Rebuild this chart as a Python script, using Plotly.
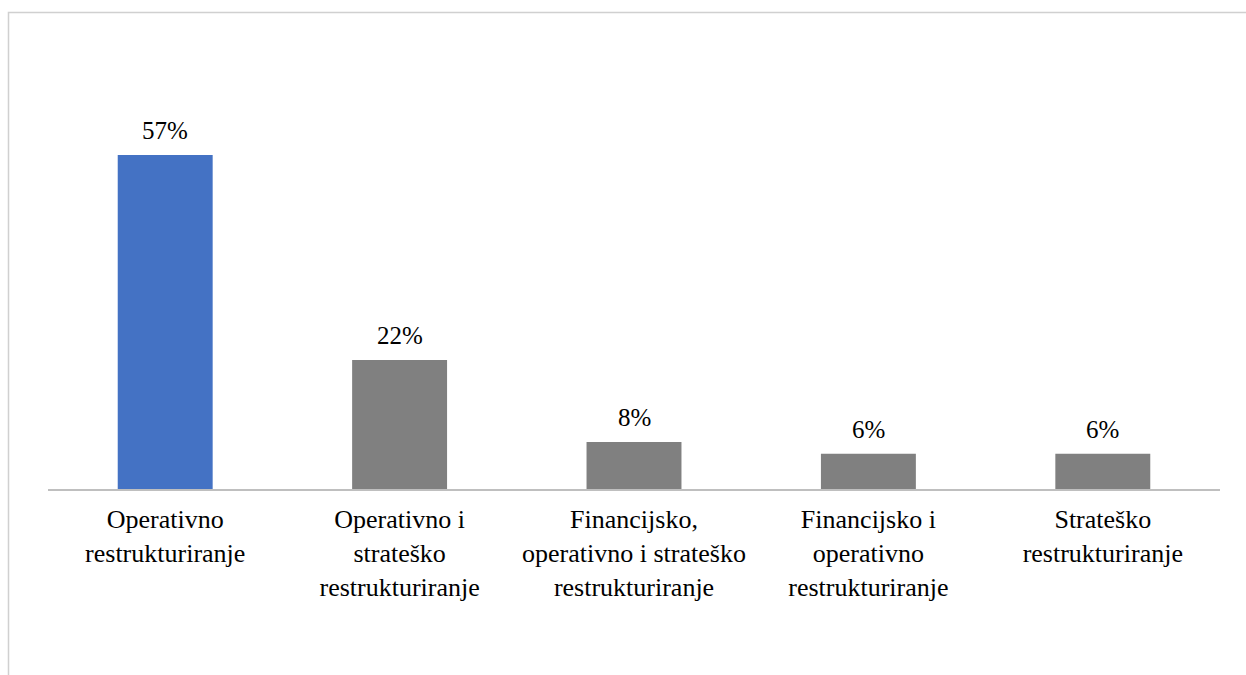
import plotly.graph_objects as go

categories = [
    "Operativno<br>restrukturiranje",
    "Operativno i<br>strateško<br>restrukturiranje",
    "Financijsko,<br>operativno i strateško<br>restrukturiranje",
    "Financijsko i<br>operativno<br>restrukturiranje",
    "Strateško<br>restrukturiranje",
]
shares = [57, 22, 8, 6, 6]
bar_colors = ["#4472C4", "#808080", "#808080", "#808080", "#808080"]

SERIF = "Liberation Serif"

W, H = 1246, 675
L, R, T, B = 48, 26, 40, 186
pw, ph = W - L - R, H - T - B


def px_x(x):
    return (x - L) / pw


def px_y(y):
    return (H - B - y) / ph


fig = go.Figure(
    go.Bar(
        x=categories,
        y=shares,
        marker=dict(color=bar_colors, line=dict(width=0)),
        hoverinfo="x+y",
    )
)

# value labels above each bar
for cat, v in zip(categories, shares):
    fig.add_annotation(
        x=cat,
        y=v,
        xref="x",
        yref="y",
        text=f"{v}%",
        showarrow=False,
        yanchor="bottom",
        yshift=9,
        font=dict(family=SERIF, size=25, color="#000000"),
    )

fig.update_layout(
    width=W,
    height=H,
    margin=dict(l=L, r=R, t=T, b=B),
    paper_bgcolor="white",
    plot_bgcolor="white",
    bargap=0.595,
    showlegend=False,
    font=dict(family=SERIF, size=26, color="#000000"),
    xaxis=dict(
        showline=True,
        linecolor="#BFBFBF",
        linewidth=1.5,
        ticks="",
        ticklabelstandoff=6,
        showgrid=False,
        tickfont=dict(family=SERIF, size=26, color="#000000"),
    ),
    yaxis=dict(
        range=[0, ph / 5.86],
        visible=False,
        showgrid=False,
        zeroline=False,
    ),
    shapes=[
        dict(
            type="rect",
            xref="paper",
            yref="paper",
            x0=px_x(8.5),
            x1=px_x(1260),
            y0=px_y(700),
            y1=px_y(12.5),
            line=dict(color="#D0D0D0", width=1.5),
            fillcolor="rgba(0,0,0,0)",
            layer="below",
        )
    ],
)

fig.write_html("out.html")
